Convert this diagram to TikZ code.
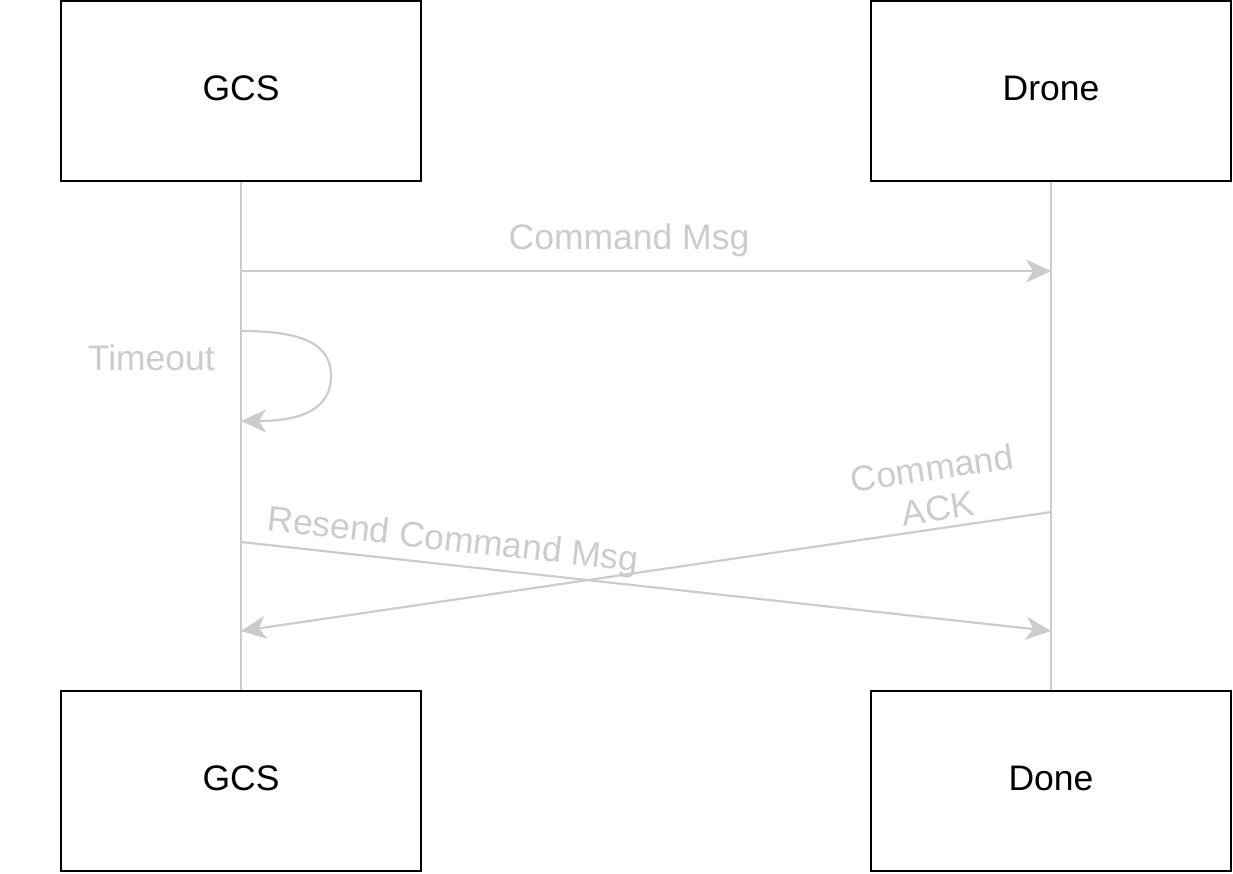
\documentclass[tikz,border=0pt]{standalone}
\usepackage{fontspec}
\setmainfont{Liberation Sans}
\usetikzlibrary{arrows.meta}
\definecolor{lgray}{HTML}{CCCCCC}
\begin{document}
\begin{tikzpicture}[x=1pt,y=-1pt,
  actor/.style={draw=black,line width=2pt,minimum width=360pt,minimum height=180pt,inner sep=0pt,text height=30pt,text depth=12pt,font=\fontsize{35.5}{40}\selectfont},
  lifeline/.style={draw=lgray,line width=2.2pt},
  msg/.style={draw=lgray,line width=2.2pt,-{Stealth[length=25pt,width=23pt,inset=7pt,fill=lgray]}},
  lbl/.style={text=lgray,font=\fontsize{35.5}{41}\selectfont,inner sep=0pt,align=center}]
\useasboundingbox (0,0) rectangle (1233,873);
\node[actor] (gcs1) at (241,91) {GCS};
\node[actor] (drone1) at (1051,91) {Drone};
\node[actor] (gcs2) at (241,781) {GCS};
\node[actor] (done2) at (1051,781) {Done};
\draw[lifeline] (gcs1.south) -- (gcs2.north);
\draw[lifeline] (drone1.south) -- (done2.north);
\coordinate (c1) at (241,271);
\coordinate (d1) at (1051,271);
\draw[msg] (c1) -- (d1);
\node[lbl] (l1) at (629,240) {Command Msg};
\coordinate (t1) at (241,331);
\coordinate (t2) at (241,421);
\draw[msg] (t1) .. controls (305,331) and (331,345) .. (331,376) .. controls (331,407) and (305,421) .. (t2);
\node[lbl,anchor=east] (l2) at (215,358) {Timeout};
\coordinate (r1) at (241,542);
\coordinate (r2) at (1051,631);
\draw[msg] (r1) -- (r2);
\node[lbl,rotate=-6.27] (l3) at (453,542) {Resend Command Msg};
\coordinate (a1) at (1051,512);
\coordinate (a2) at (241,631);
\draw[msg] (a1) -- (a2);
\node[lbl,rotate=8.36] (l4) at (935,488) {Command\\ACK};
\end{tikzpicture}
\end{document}
